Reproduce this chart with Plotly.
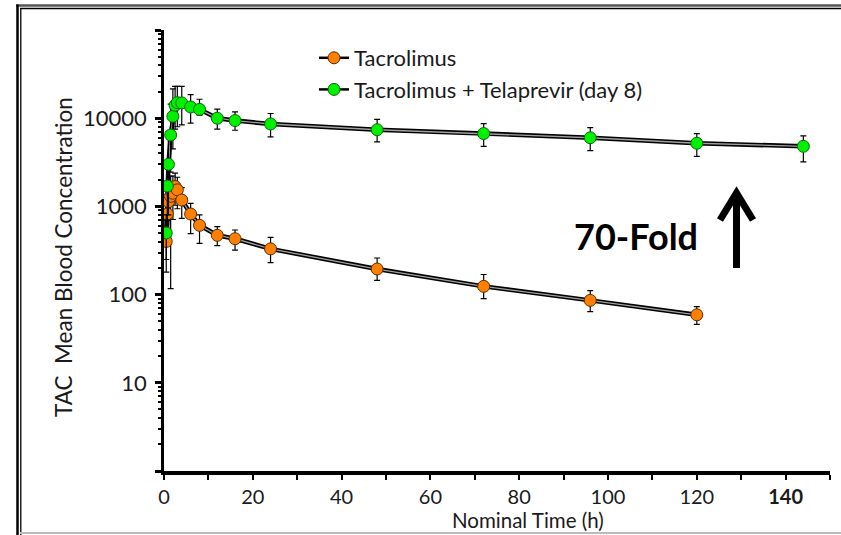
import plotly.graph_objects as go

# ---------------- data ----------------
tac_time = [0.5, 0.75, 1, 1.5, 2, 2.5, 3, 4, 6, 8, 12, 16, 24, 48, 72, 96, 120]
tac_conc = [400, 820, 1130, 1300, 1410, 1680, 1540, 1180, 820, 610, 470, 430, 330, 195, 124, 86, 59]
tac_err_plus = [300, 550, 800, 900, 800, 700, 600, 450, 260, 190, 120, 110, 115, 65, 45, 25, 14]
tac_err_minus = [220, 450, 700, 1183, 700, 650, 600, 450, 330, 230, 110, 110, 100, 50, 34, 22, 13]

tel_time = [0.5, 0.75, 1, 1.5, 2, 2.5, 3, 4, 6, 8, 12, 16, 24, 48, 72, 96, 120, 144]
tel_conc = [500, 1700, 3000, 6450, 10500, 14000, 15000, 14900, 13400, 12600, 10000, 9400, 8600,
            7400, 6700, 6000, 5200, 4800]
tel_err_plus = [300, 1500, 4000, 8000, 11000, 9000, 8000, 8000, 5100, 3800, 2650, 2400, 2700,
                2300, 2000, 1800, 1500, 1500]
tel_err_minus = [250, 1000, 2200, 4000, 6000, 6500, 7000, 6500, 4600, 1800, 2500, 2100, 2450,
                 2000, 1900, 1700, 1500, 1600]

x_tick_vals = list(range(0, 151, 10))
x_tick_text = ["0", "", "20", "", "40", "", "60", "", "80", "", "100", "", "120", "", "<b>140</b>", ""]
y_tick_vals = [1, 10, 100, 1000, 10000, 100000]
y_tick_text = ["", "10", "100", "1000", "10000", ""]
y_minor_vals = [m * 10 ** e for e in range(0, 5) for m in range(2, 10)]

series_names = ["Tacrolimus", "Tacrolimus + Telaprevir (day 8)"]
ORANGE, ORANGE_EDGE = "#FF8000", "#5a2d00"
GREEN, GREEN_EDGE = "#00F000", "#0a6a0a"

FONT = "Lato, 'Open Sans', sans-serif"
TXT = "#1a1a1a"

FIG_W, FIG_H = 841, 535
# plot-area geometry (pixels)
L, R, T, B = 164, 830, 30, 471
W, H = R - L, B - T


def px_x(p):
    return (p - L) / W


def px_y(p):
    return (B - p) / H


fig = go.Figure()

# connecting double lines (black outline with grey core)
for tx, ty in [(tac_time, tac_conc), (tel_time, tel_conc)]:
    fig.add_trace(go.Scatter(x=tx, y=ty, mode="lines", line=dict(color="black", width=4.5),
                             showlegend=False, hoverinfo="skip"))
    fig.add_trace(go.Scatter(x=tx, y=ty, mode="lines", line=dict(color="#a0a0a0", width=1.3),
                             showlegend=False, hoverinfo="skip"))

# markers with error bars
for tx, ty, ep, em, fc, ec in [
    (tac_time, tac_conc, tac_err_plus, tac_err_minus, ORANGE, ORANGE_EDGE),
    (tel_time, tel_conc, tel_err_plus, tel_err_minus, GREEN, GREEN_EDGE),
]:
    fig.add_trace(go.Scatter(
        x=tx, y=ty, mode="markers",
        marker=dict(color=fc, size=12, line=dict(color=ec, width=1)),
        error_y=dict(type="data", symmetric=False, array=ep, arrayminus=em,
                     color="black", thickness=1.2, width=3),
        showlegend=False,
    ))

# legend entries
for name, fc, ec in [(series_names[0], ORANGE, ORANGE_EDGE), (series_names[1], GREEN, GREEN_EDGE)]:
    fig.add_trace(go.Scatter(
        x=[None], y=[None], mode="lines+markers", name=name,
        line=dict(color="black", width=2.5),
        marker=dict(color=fc, size=12, line=dict(color=ec, width=1)),
    ))

shapes = []
# outer frame
shapes.append(dict(type="line", xref="paper", yref="paper", x0=px_x(16), x1=px_x(FIG_W),
                   y0=px_y(5.5), y1=px_y(5.5), line=dict(color="#555555", width=2.5)))
shapes.append(dict(type="line", xref="paper", yref="paper", x0=px_x(20), x1=px_x(FIG_W),
                   y0=px_y(8.5), y1=px_y(8.5), line=dict(color="black", width=1.3)))
shapes.append(dict(type="line", xref="paper", yref="paper", x0=px_x(17.5), x1=px_x(17.5),
                   y0=px_y(4.5), y1=px_y(FIG_H), line=dict(color="black", width=2.5)))
shapes.append(dict(type="line", xref="paper", yref="paper", x0=px_x(20.8), x1=px_x(20.8),
                   y0=px_y(8), y1=px_y(FIG_H), line=dict(color="black", width=1.3)))
shapes.append(dict(type="line", xref="paper", yref="paper", x0=px_x(20), x1=px_x(FIG_W),
                   y0=px_y(533), y1=px_y(533), line=dict(color="#bbbbbb", width=2)))
# arrow
shapes.append(dict(type="line", xref="paper", yref="paper", x0=px_x(736.5), x1=px_x(736.5),
                   y0=px_y(268), y1=px_y(198), line=dict(color="black", width=7)))
shapes.append(dict(type="path", xref="paper", yref="paper",
                   path=(f"M {px_x(720)} {px_y(220)} L {px_x(736.5)} {px_y(193)} "
                         f"L {px_x(753)} {px_y(220)}"),
                   line=dict(color="black", width=7)))

annotations = [
    dict(text="70-Fold", x=px_x(636), y=px_y(236), xref="paper", yref="paper",
         showarrow=False, font=dict(family=FONT, size=36, color="black", weight="bold"),
         xanchor="center", yanchor="middle"),
    dict(text="Nominal Time (h)", x=px_x(528), y=px_y(520), xref="paper", yref="paper",
         showarrow=False, font=dict(family=FONT, size=20.5, color=TXT), xanchor="center",
         yanchor="middle"),
    dict(text="TAC\u00a0 Mean Blood Concentration", x=px_x(63), y=px_y(257), xref="paper",
         yref="paper", showarrow=False, textangle=-90,
         font=dict(family=FONT, size=22.5, color=TXT), xanchor="center", yanchor="middle"),
]

fig.update_layout(
    width=FIG_W, height=FIG_H,
    margin=dict(l=L, r=FIG_W - R, t=T, b=FIG_H - B, autoexpand=False),
    paper_bgcolor="white", plot_bgcolor="white",
    showlegend=True,
    legend=dict(x=px_x(314), y=px_y(37), xanchor="left", yanchor="top",
                font=dict(family=FONT, size=22, color=TXT), bgcolor="rgba(0,0,0,0)",
                tracegroupgap=0, itemwidth=30),
    shapes=shapes,
    annotations=annotations,
    xaxis=dict(range=[0, 150], tickvals=x_tick_vals, ticktext=x_tick_text,
               ticks="outside", ticklen=5, tickwidth=1.5, tickcolor="black",
               showline=True, linecolor="black", linewidth=4, showgrid=False, zeroline=False,
               ticklabelstandoff=0,
               tickfont=dict(family=FONT, size=20, color=TXT)),
    yaxis=dict(type="log", range=[0, 5], tickvals=y_tick_vals, ticktext=y_tick_text,
               ticks="outside", ticklen=6, tickwidth=2.5, tickcolor="black",
               showline=True, linecolor="black", linewidth=2.5, showgrid=False, zeroline=False,
               ticklabelstandoff=4,
               minor=dict(tickvals=y_minor_vals, ticks="outside", ticklen=3, tickwidth=1.5,
                          tickcolor="black", showgrid=False),
               tickfont=dict(family=FONT, size=22, color=TXT)),
)

fig.write_html("out.html")
